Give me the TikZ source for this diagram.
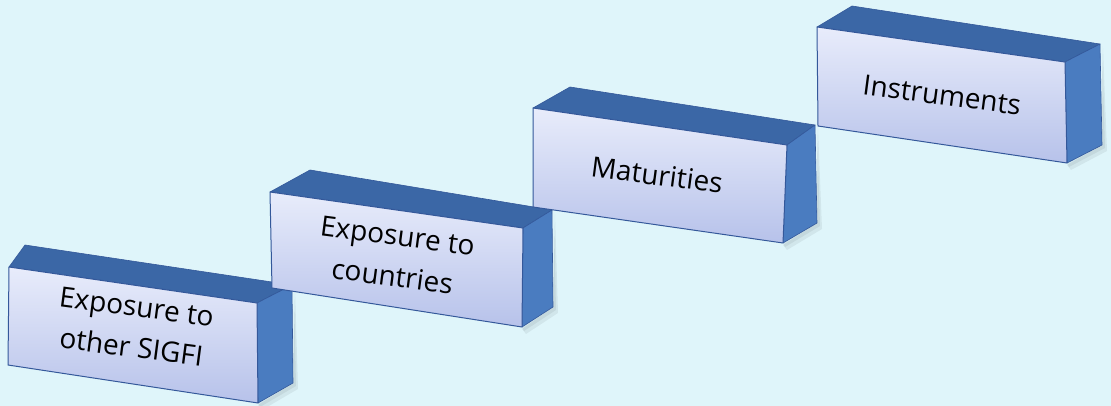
\documentclass[tikz,border=0pt]{standalone}
\usepackage{fontspec}
\setmainfont{Open Sans}
\definecolor{bgc}{HTML}{DFF5FA}
\definecolor{topc}{HTML}{3B67A6}
\definecolor{sidec}{HTML}{4A7CC0}
\definecolor{fronttop}{HTML}{E8ECFB}
\definecolor{frontbot}{HTML}{B7C2EA}
\definecolor{edgec}{HTML}{34589A}
\tikzset{
  topface/.style={fill=topc, draw=edgec, line width=0.6pt, line join=round},
  sideface/.style={fill=sidec, draw=edgec, line width=0.6pt, line join=round},
  frontface/.style={top color=fronttop, bottom color=frontbot, draw=edgec, line width=1pt, line join=round},
  shadowface/.style={fill=black, opacity=0.06},
  boxtext/.style={font=\fontsize{28}{41}\selectfont, align=center, rotate=-7.5, text=black, inner sep=0pt}
}
% #1 FTL, #2 FTR, #3 FBR, #4 FBL, #5 BTL, #6 BTR, #7 BBR
\newcommand{\drawbox}[7]{%
  \fill[shadowface] ($#6+(3,4)$) -- ($#7+(5,6)$) -- ($#3+(4,7)$) -- ($#3+(0,2)$) -- #7 -- cycle;
  \fill[shadowface] ($#6+(2,2)$) -- ($#7+(3,3)$) -- ($#3+(2,4)$) -- #3 -- #7 -- cycle;
  \path[topface] #1 -- #5 -- #6 -- #2 -- cycle;
  \path[sideface] #2 -- #6 -- #7 -- #3 -- cycle;
  \path[frontface] #1 -- #2 -- #3 -- #4 -- cycle;
}
\usetikzlibrary{calc}
\begin{document}
\begin{tikzpicture}[x=1pt,y=-1pt]
\fill[bgc] (0,0) rectangle (1111,406);
\useasboundingbox (0,0) rectangle (1111,406);
\drawbox{(9,267)}{(257,303)}{(258,403)}{(8,365)}{(25,245)}{(292,285)}{(293,383)}
\node[boxtext] (b1) at (134,327) {Exposure to\\other SIGFI};
\drawbox{(270,192)}{(523,228)}{(522,327)}{(272,288)}{(310,170)}{(552,210)}{(553,307)}
\node[boxtext] (b2) at (395,256) {Exposure to\\countries};
\drawbox{(533,108)}{(787,145)}{(783,243)}{(533,207)}{(570,87)}{(815,125)}{(817,223)}
\node[boxtext] (b3) at (657,175) {Maturities};
\drawbox{(817,27)}{(1065,62)}{(1067,163)}{(818,126)}{(852,6)}{(1100,44)}{(1102,145)}
\node[boxtext] (b4) at (942,95) {Instruments};
\end{tikzpicture}
\end{document}
